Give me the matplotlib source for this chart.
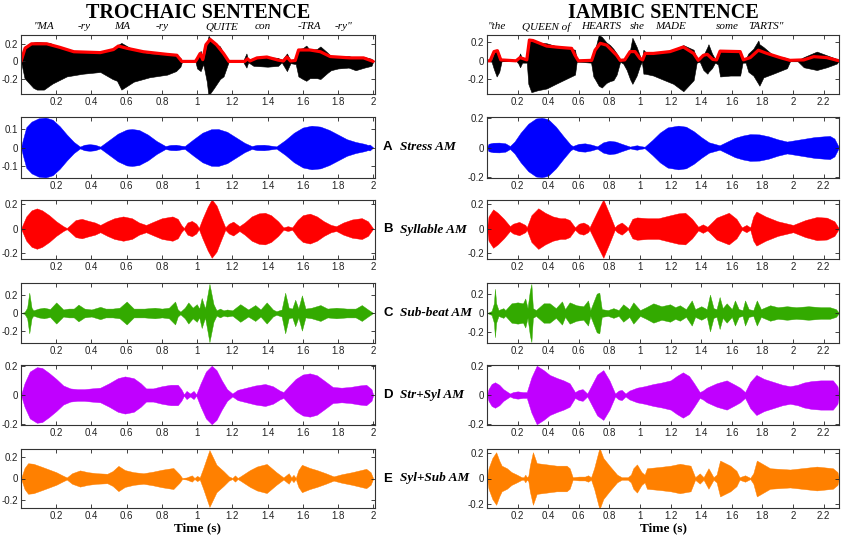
import numpy as np
import matplotlib.pyplot as plt

plt.rcParams['font.family'] = ['Liberation Sans', 'DejaVu Sans']

# ---------------- trochaic sentence ("MA-ry MA-ry QUITE con-TRA-ry") ----------------
tro_words = ['"MA', '-ry', 'MA', '-ry', 'QUITE', 'con', '-TRA', '-ry"']
tro_word_t = [0.13, 0.36, 0.575, 0.80, 1.14, 1.375, 1.64, 1.83]

tro_wave_t = [0, 0.02, 0.07, 0.09, 0.13, 0.165, 0.18, 0.26, 0.35, 0.45,
              0.52, 0.545, 0.57, 0.64, 0.73, 0.83, 0.88, 0.905, 0.915, 0.99,
              1.0, 1.02, 1.035, 1.055, 1.065, 1.075, 1.093, 1.13, 1.15, 1.18,
              1.26, 1.28, 1.29, 1.32, 1.40, 1.46, 1.48, 1.51, 1.53, 1.56,
              1.575, 1.6, 1.62, 1.64, 1.68, 1.7, 1.74, 1.76, 1.8, 1.86,
              1.9, 1.95, 1.99, 2.0]
tro_wave_hi = [0, 0.17, 0.215, 0.22, 0.215, 0.21, 0.19, 0.13, 0.11, 0.11,
               0.14, 0.18, 0.21, 0.13, 0.09, 0.08, 0.07, 0.04, 0, 0,
               0.05, 0.12, 0.02, 0.2, 0.29, 0.26, 0.22, 0.17, 0.09, 0,
               0, 0.09, 0.01, 0.04, 0.05, 0.04, 0.01, 0.09, 0.01, 0.02,
               0.14, 0.15, 0.18, 0.13, 0.14, 0.17, 0.1, 0.06, 0.05, 0.06,
               0.04, 0.05, 0.03, 0]
tro_wave_lo = [0, 0.19, 0.3, 0.32, 0.32, 0.27, 0.25, 0.17, 0.14, 0.12,
               0.2, 0.22, 0.32, 0.23, 0.18, 0.15, 0.11, 0.06, 0, 0,
               0.08, 0.11, 0.03, 0.23, 0.4, 0.36, 0.31, 0.2, 0.17, 0,
               0, 0.07, 0.01, 0.05, 0.06, 0.05, 0.01, 0.11, 0.02, 0.03,
               0.17, 0.2, 0.22, 0.19, 0.19, 0.2, 0.13, 0.1, 0.08, 0.07,
               0.1, 0.07, 0.05, 0]

tro_env_t = [0, 0.023, 0.06, 0.146, 0.22, 0.3, 0.45, 0.525, 0.553, 0.6,
             0.695, 0.83, 0.885, 0.913, 0.99, 1.0, 1.017, 1.032, 1.05, 1.074,
             1.11, 1.15, 1.18, 1.27, 1.286, 1.3, 1.34, 1.396, 1.46, 1.49,
             1.51, 1.53, 1.557, 1.576, 1.64, 1.7, 1.756, 1.87, 1.945, 2.0]
tro_env_a = [0, 0.15, 0.2, 0.2, 0.16, 0.11, 0.1, 0.135, 0.175, 0.15,
             0.11, 0.08, 0.07, 0, 0, 0.03, 0.09, 0.02, 0.19, 0.25,
             0.19, 0.09, 0, 0, 0.03, 0.005, 0.04, 0.05, 0.015, 0.005,
             0.05, 0.005, 0.01, 0.13, 0.13, 0.11, 0.055, 0.04, 0.04, 0]

tro_stress_t = [0, 0.01, 0.03, 0.06, 0.1, 0.14, 0.18, 0.22, 0.26, 0.3,
                0.335, 0.36, 0.39, 0.42, 0.45, 0.5, 0.55, 0.6, 0.63, 0.67,
                0.72, 0.77, 0.82, 0.85, 0.88, 0.91, 0.93, 0.98, 1.03, 1.08,
                1.12, 1.17, 1.22, 1.27, 1.31, 1.34, 1.38, 1.42, 1.45, 1.5,
                1.55, 1.6, 1.65, 1.7, 1.75, 1.8, 1.85, 1.9, 1.95, 1.97,
                1.98, 2.0]
tro_stress_a = [0, 0.04, 0.11, 0.14, 0.158, 0.162, 0.15, 0.115, 0.07, 0.03,
                0.005, 0.015, 0.018, 0.015, 0.005, 0.04, 0.075, 0.097, 0.1, 0.095,
                0.07, 0.035, 0.008, 0.014, 0.015, 0.01, 0.008, 0.045, 0.08, 0.099,
                0.1, 0.085, 0.055, 0.025, 0.008, 0.014, 0.015, 0.01, 0.006, 0.04,
                0.08, 0.108, 0.118, 0.113, 0.095, 0.07, 0.045, 0.03, 0.02, 0.014,
                0.016, 0]

tro_syl_t = [0, 0.03, 0.06, 0.09, 0.12, 0.16, 0.2, 0.24, 0.26, 0.28,
             0.31, 0.345, 0.38, 0.42, 0.45, 0.49, 0.53, 0.58, 0.63, 0.67,
             0.71, 0.75, 0.8, 0.86, 0.89, 0.91, 0.925, 0.945, 0.97, 0.995,
             1.01, 1.03, 1.06, 1.083, 1.11, 1.14, 1.16, 1.18, 1.205, 1.24,
             1.27, 1.31, 1.35, 1.385, 1.42, 1.46, 1.49, 1.515, 1.54, 1.57,
             1.6, 1.64, 1.68, 1.72, 1.76, 1.79, 1.83, 1.88, 1.935, 1.97,
             2.0]
tro_syl_a = [0, 0.1, 0.15, 0.166, 0.15, 0.11, 0.06, 0.02, 0.005, 0.03,
             0.07, 0.08, 0.065, 0.05, 0.03, 0.06, 0.085, 0.1, 0.085, 0.05,
             0.03, 0.055, 0.085, 0.1, 0.08, 0.03, 0.005, 0.05, 0.063, 0.04,
             0.005, 0.08, 0.18, 0.24, 0.19, 0.08, 0.01, 0.04, 0.057, 0.02,
             0.05, 0.1, 0.125, 0.13, 0.11, 0.06, 0.01, 0.02, 0.01, 0.07,
             0.11, 0.123, 0.1, 0.06, 0.03, 0.02, 0.05, 0.075, 0.086, 0.06,
             0]

tro_sub_t = [0, 0.02, 0.035, 0.047, 0.06, 0.07, 0.1, 0.13, 0.165, 0.2,
             0.24, 0.27, 0.3, 0.326, 0.36, 0.4, 0.45, 0.48, 0.52, 0.56,
             0.6, 0.64, 0.7, 0.76, 0.8, 0.84, 0.875, 0.89, 0.905, 0.93,
             0.95, 0.975, 0.998, 1.012, 1.026, 1.045, 1.07, 1.093, 1.11, 1.13,
             1.15, 1.17, 1.2, 1.245, 1.29, 1.33, 1.36, 1.395, 1.43, 1.45,
             1.48, 1.5, 1.52, 1.54, 1.557, 1.575, 1.595, 1.615, 1.65, 1.7,
             1.74, 1.79, 1.85, 1.9, 1.935, 1.97, 2.0]
tro_sub_a = [0, 0.01, 0.06, 0.23, 0.06, 0.03, 0.05, 0.06, 0.045, 0.12,
             0.04, 0.05, 0.05, 0.095, 0.05, 0.04, 0.07, 0.05, 0.05, 0.06,
             0.13, 0.05, 0.05, 0.06, 0.05, 0.06, 0.13, 0.04, 0.015, 0.06,
             0.12, 0.06, 0.1, 0.05, 0.17, 0.05, 0.33, 0.1, 0.03, 0.05,
             0.03, 0.04, 0.03, 0.1, 0.04, 0.09, 0.04, 0.12, 0.04, 0.02,
             0.04, 0.23, 0.06, 0.05, 0.15, 0.05, 0.2, 0.05, 0.06, 0.09,
             0.05, 0.06, 0.05, 0.05, 0.09, 0.04, 0]

tro_strsyl_t = [0, 0.02, 0.05, 0.09, 0.12, 0.16, 0.2, 0.24, 0.28, 0.32,
                0.36, 0.4, 0.45, 0.5, 0.55, 0.59, 0.64, 0.68, 0.71, 0.75,
                0.8, 0.85, 0.89, 0.91, 0.925, 0.94, 0.96, 0.98, 0.995, 1.02,
                1.05, 1.083, 1.11, 1.14, 1.17, 1.2, 1.23, 1.28, 1.33, 1.386,
                1.43, 1.47, 1.49, 1.52, 1.56, 1.6, 1.64, 1.68, 1.72, 1.77,
                1.82, 1.87, 1.92, 1.96, 1.99, 2.0]
tro_strsyl_a = [0, 0.08, 0.16, 0.19, 0.185, 0.15, 0.11, 0.065, 0.045, 0.04,
                0.04, 0.045, 0.05, 0.08, 0.115, 0.127, 0.115, 0.08, 0.045, 0.045,
                0.06, 0.07, 0.07, 0.04, 0.005, 0.028, 0.01, 0.028, 0.005, 0.08,
                0.16, 0.2, 0.17, 0.1, 0.04, 0.01, 0.035, 0.05, 0.065, 0.075,
                0.06, 0.03, 0.02, 0.06, 0.11, 0.14, 0.148, 0.135, 0.1, 0.055,
                0.05, 0.055, 0.065, 0.07, 0.04, 0]

tro_sylsub_t = [0, 0.02, 0.04, 0.07, 0.12, 0.16, 0.2, 0.235, 0.26, 0.29,
                0.335, 0.38, 0.43, 0.49, 0.52, 0.553, 0.59, 0.64, 0.695, 0.75,
                0.8, 0.865, 0.9, 0.915, 0.94, 0.97, 0.985, 1.0, 1.015, 1.035,
                1.07, 1.11, 1.15, 1.18, 1.2, 1.215, 1.23, 1.245, 1.3, 1.34,
                1.395, 1.45, 1.49, 1.505, 1.52, 1.535, 1.547, 1.56, 1.575, 1.595,
                1.64, 1.68, 1.73, 1.775, 1.82, 1.88, 1.93, 1.96, 1.985, 2.0]
tro_sylsub_a = [0, 0.1, 0.145, 0.14, 0.11, 0.085, 0.06, 0.03, 0.01, 0.05,
                0.077, 0.06, 0.05, 0.045, 0.07, 0.12, 0.08, 0.06, 0.05, 0.065,
                0.083, 0.1, 0.04, 0.005, 0.01, 0.03, 0.005, 0.025, 0.01, 0.1,
                0.27, 0.13, 0.07, 0.02, 0.005, 0.03, 0.005, 0.02, 0.08, 0.114,
                0.138, 0.06, 0.01, 0.03, 0.05, 0.01, 0.035, 0.005, 0.08, 0.13,
                0.1, 0.08, 0.05, 0.02, 0.04, 0.06, 0.08, 0.092, 0.06, 0]

# ---------------- iambic sentence ("the QUEEN of HEARTS she MADE some TARTS") ----------------
iam_words = ['"the', 'QUEEN of', 'HEARTS', 'she', 'MADE', 'some', 'TARTS"']
iam_word_t = [0.065, 0.39, 0.745, 0.98, 1.2, 1.57, 1.82]

iam_wave_t = [0, 0.03, 0.045, 0.063, 0.08, 0.096, 0.19, 0.205, 0.216, 0.23,
              0.26, 0.27, 0.29, 0.33, 0.39, 0.45, 0.5, 0.55, 0.575, 0.586,
              0.6, 0.68, 0.695, 0.706, 0.73, 0.75, 0.78, 0.804, 0.826, 0.847,
              0.87, 0.89, 0.913, 0.935, 0.95, 0.978, 1.0, 1.012, 1.022, 1.033,
              1.087, 1.13, 1.218, 1.283, 1.35, 1.37, 1.39, 1.414, 1.44, 1.447,
              1.47, 1.49, 1.51, 1.523, 1.59, 1.654, 1.67, 1.69, 1.708, 1.74,
              1.773, 1.78, 1.806, 1.87, 1.96, 1.98, 2.03, 2.07, 2.155, 2.22,
              2.285, 2.3]
iam_wave_hi = [0, 0.01, 0.08, 0.12, 0.07, 0, 0, 0.03, 0.08, 0.02,
               0.02, 0.24, 0.23, 0.2, 0.19, 0.16, 0.145, 0.13, 0.12, 0.01,
               0.01, 0.02, 0.08, 0.12, 0.28, 0.26, 0.2, 0.17, 0.13, 0.08,
               0.01, 0.02, 0.04, 0.12, 0.25, 0.15, 0.05, 0.01, 0.12, 0.1,
               0.08, 0.09, 0.12, 0.17, 0.12, 0.02, 0.01, 0.06, 0.15, 0.18,
               0.08, 0.02, 0.03, 0.12, 0.1, 0.1, 0.02, 0.02, 0.08, 0.13,
               0.22, 0.18, 0.15, 0.06, 0.03, 0.005, 0.005, 0.04, 0.1, 0.06,
               0.02, 0]
iam_wave_lo = [0, 0.01, 0.09, 0.17, 0.12, 0, 0, 0.03, 0.07, 0.02,
               0.02, 0.25, 0.34, 0.32, 0.3, 0.25, 0.21, 0.17, 0.15, 0.01,
               0.01, 0.02, 0.17, 0.2, 0.27, 0.29, 0.24, 0.22, 0.21, 0.15,
               0.01, 0.03, 0.1, 0.2, 0.25, 0.16, 0.05, 0.01, 0.14, 0.14,
               0.16, 0.19, 0.25, 0.33, 0.21, 0.02, 0.01, 0.1, 0.14, 0.12,
               0.08, 0.02, 0.04, 0.17, 0.16, 0.16, 0.02, 0.02, 0.12, 0.16,
               0.25, 0.27, 0.18, 0.14, 0.08, 0.005, 0.005, 0.07, 0.1, 0.07,
               0.03, 0]

iam_env_t = [0, 0.02, 0.046, 0.068, 0.09, 0.19, 0.216, 0.26, 0.277, 0.3,
             0.39, 0.477, 0.553, 0.575, 0.597, 0.684, 0.706, 0.74, 0.782, 0.847,
             0.87, 0.9, 0.935, 0.967, 1.0, 1.017, 1.033, 1.087, 1.196, 1.283,
             1.35, 1.38, 1.414, 1.44, 1.475, 1.5, 1.523, 1.654, 1.675, 1.72,
             1.773, 1.83, 1.915, 1.98, 2.07, 2.135, 2.22, 2.3]
iam_env_a = [0, 0, 0.1, 0.11, 0.01, 0, 0.035, 0.01, 0.225, 0.22,
             0.16, 0.145, 0.135, 0.06, 0, 0.005, 0.115, 0.19, 0.17, 0.06,
             0.005, 0.01, 0.1, 0.1, 0.025, 0.01, 0.08, 0.08, 0.1, 0.15,
             0.08, 0.005, 0.06, 0.07, 0.015, 0.01, 0.105, 0.1, 0.01, 0.035,
             0.115, 0.08, 0.035, 0.005, 0.01, 0.045, 0.035, 0]

iam_stress_t = [0, 0.01, 0.04, 0.08, 0.12, 0.15, 0.18, 0.22, 0.27, 0.32,
                0.357, 0.4, 0.45, 0.5, 0.545, 0.56, 0.6, 0.64, 0.68, 0.72,
                0.76, 0.8, 0.84, 0.88, 0.935, 0.96, 0.98, 1.0, 1.03, 1.08,
                1.13, 1.18, 1.25, 1.3, 1.35, 1.4, 1.45, 1.52, 1.57, 1.62,
                1.67, 1.72, 1.78, 1.84, 1.9, 1.96, 2.02, 2.08, 2.14, 2.2,
                2.24, 2.27, 2.3]
iam_stress_a = [0, 0.025, 0.032, 0.033, 0.028, 0.01, 0.04, 0.1, 0.16, 0.195,
                0.2, 0.19, 0.14, 0.075, 0.02, 0.01, 0.025, 0.028, 0.02, 0.008,
                0.035, 0.045, 0.04, 0.025, 0.006, 0.012, 0.015, 0.01, 0.005, 0.05,
                0.1, 0.135, 0.147, 0.14, 0.11, 0.07, 0.035, 0.015, 0.04, 0.065,
                0.08, 0.09, 0.088, 0.075, 0.055, 0.04, 0.05, 0.06, 0.07, 0.075,
                0.078, 0.06, 0]

iam_syl_t = [0, 0.01, 0.04, 0.07, 0.11, 0.15, 0.17, 0.21, 0.25, 0.26,
             0.29, 0.335, 0.38, 0.43, 0.48, 0.51, 0.54, 0.575, 0.6, 0.63,
             0.66, 0.67, 0.72, 0.76, 0.8, 0.835, 0.85, 0.88, 0.91, 0.92,
             0.95, 0.98, 1.05, 1.12, 1.2, 1.25, 1.295, 1.34, 1.38, 1.41,
             1.44, 1.5, 1.58, 1.63, 1.665, 1.695, 1.72, 1.74, 1.76, 1.82,
             1.9, 2.0, 2.08, 2.155, 2.22, 2.27, 2.3]
iam_syl_a = [0, 0.1, 0.158, 0.13, 0.08, 0.02, 0.04, 0.055, 0.03, 0.01,
             0.11, 0.167, 0.13, 0.1, 0.085, 0.085, 0.07, 0.01, 0.04, 0.05,
             0.03, 0.01, 0.14, 0.24, 0.12, 0.01, 0.03, 0.05, 0.02, 0.005,
             0.08, 0.092, 0.085, 0.085, 0.11, 0.125, 0.13, 0.08, 0.015, 0.035,
             0.015, 0.09, 0.13, 0.08, 0.01, 0.03, 0.01, 0.1, 0.14, 0.1,
             0.06, 0.03, 0.07, 0.095, 0.09, 0.06, 0]

iam_sub_t = [0, 0.03, 0.045, 0.052, 0.06, 0.075, 0.09, 0.107, 0.12, 0.16,
             0.2, 0.235, 0.25, 0.265, 0.28, 0.29, 0.3, 0.32, 0.37, 0.41,
             0.45, 0.49, 0.51, 0.54, 0.585, 0.63, 0.66, 0.675, 0.717, 0.734,
             0.75, 0.79, 0.826, 0.86, 0.89, 0.93, 0.956, 1.0, 1.04, 1.087,
             1.14, 1.196, 1.23, 1.26, 1.3, 1.338, 1.36, 1.4, 1.436, 1.457,
             1.48, 1.5, 1.52, 1.54, 1.566, 1.6, 1.62, 1.645, 1.67, 1.686,
             1.71, 1.74, 1.763, 1.79, 1.85, 1.9, 1.96, 2.02, 2.1, 2.18,
             2.24, 2.28, 2.3]
iam_sub_a = [0, 0.02, 0.1, 0.25, 0.1, 0.03, 0.04, 0.05, 0.03, 0.1,
             0.11, 0.1, 0.15, 0.05, 0.23, 0.3, 0.05, 0.03, 0.1, 0.1,
             0.05, 0.12, 0.04, 0.11, 0.08, 0.07, 0.13, 0.03, 0.2, 0.21,
             0.04, 0.03, 0.05, 0.03, 0.09, 0.04, 0.11, 0.03, 0.06, 0.1,
             0.07, 0.09, 0.06, 0.08, 0.04, 0.13, 0.04, 0.07, 0.04, 0.19,
             0.05, 0.04, 0.165, 0.05, 0.1, 0.04, 0.13, 0.04, 0.03, 0.13,
             0.04, 0.03, 0.13, 0.04, 0.08, 0.06, 0.07, 0.06, 0.07, 0.06,
             0.06, 0.04, 0]

iam_strsyl_t = [0, 0.01, 0.03, 0.052, 0.08, 0.107, 0.15, 0.17, 0.2, 0.235,
                0.26, 0.29, 0.325, 0.37, 0.41, 0.46, 0.5, 0.54, 0.575, 0.6,
                0.625, 0.655, 0.68, 0.72, 0.76, 0.8, 0.837, 0.86, 0.88, 0.905,
                0.93, 0.98, 1.03, 1.087, 1.14, 1.2, 1.24, 1.28, 1.32, 1.35,
                1.39, 1.41, 1.436, 1.5, 1.566, 1.62, 1.654, 1.686, 1.72, 1.76,
                1.81, 1.87, 1.93, 1.98, 2.03, 2.07, 2.12, 2.18, 2.26, 2.29,
                2.3]
iam_strsyl_a = [0, 0.04, 0.075, 0.087, 0.07, 0.04, 0.01, 0.02, 0.025, 0.02,
                0.02, 0.12, 0.2, 0.17, 0.137, 0.115, 0.1, 0.08, 0.02, 0.035,
                0.04, 0.01, 0.06, 0.14, 0.17, 0.1, 0.01, 0.03, 0.035, 0.01,
                0.03, 0.05, 0.06, 0.075, 0.085, 0.1, 0.13, 0.155, 0.13, 0.085,
                0.02, 0.03, 0.05, 0.08, 0.1, 0.07, 0.05, 0.02, 0.09, 0.137,
                0.11, 0.09, 0.07, 0.06, 0.07, 0.085, 0.095, 0.1, 0.1, 0.06,
                0]

iam_sylsub_t = [0, 0.01, 0.035, 0.06, 0.08, 0.096, 0.13, 0.16, 0.195, 0.227,
                0.24, 0.25, 0.26, 0.27, 0.28, 0.3, 0.325, 0.39, 0.455, 0.52,
                0.54, 0.56, 0.6, 0.64, 0.66, 0.68, 0.7, 0.735, 0.76, 0.8,
                0.85, 0.88, 0.92, 0.94, 0.956, 0.98, 1.01, 1.03, 1.045, 1.13,
                1.2, 1.26, 1.33, 1.36, 1.39, 1.415, 1.447, 1.48, 1.5, 1.523,
                1.59, 1.63, 1.65, 1.686, 1.72, 1.74, 1.763, 1.85, 1.98, 2.155,
                2.26, 2.29, 2.3]
iam_sylsub_a = [0, 0.08, 0.16, 0.205, 0.14, 0.1, 0.08, 0.05, 0.03, 0.01,
                0.01, 0.03, 0.01, 0.02, 0.1, 0.205, 0.12, 0.11, 0.1, 0.1,
                0.08, 0.01, 0.015, 0.015, 0.025, 0.01, 0.08, 0.24, 0.16, 0.1,
                0.03, 0.01, 0.01, 0.03, 0.08, 0.11, 0.05, 0.03, 0.08, 0.09,
                0.1, 0.115, 0.1, 0.01, 0.04, 0.01, 0.08, 0.01, 0.03, 0.14,
                0.1, 0.06, 0.01, 0.025, 0.005, 0.04, 0.14, 0.08, 0.07, 0.093,
                0.08, 0.05, 0]

row_labels = ['A', 'B', 'C', 'D', 'E']
row_names = ['Stress AM', 'Syllable AM', 'Sub-beat AM', 'Str+Syl AM', 'Syl+Sub AM']
row_colors = ['#0000ff', '#ff0000', '#33aa00', '#c000ff', '#ff8000']

tro_rows = [(tro_stress_t, tro_stress_a), (tro_syl_t, tro_syl_a), (tro_sub_t, tro_sub_a),
            (tro_strsyl_t, tro_strsyl_a), (tro_sylsub_t, tro_sylsub_a)]
iam_rows = [(iam_stress_t, iam_stress_a), (iam_syl_t, iam_syl_a), (iam_sub_t, iam_sub_a),
            (iam_strsyl_t, iam_strsyl_a), (iam_sylsub_t, iam_sylsub_a)]

# y limits per row (top panel first), left and right columns
tro_ylims = [(-0.37, 0.30), (-0.165, 0.165), (-0.25, 0.235), (-0.34, 0.34), (-0.205, 0.205), (-0.28, 0.28)]
iam_ylims = [(-0.36, 0.28), (-0.205, 0.205), (-0.25, 0.235), (-0.31, 0.31), (-0.205, 0.205), (-0.23, 0.23)]
tro_yticks = [[-0.2, 0, 0.2], [-0.1, 0, 0.1]] + [[-0.2, 0, 0.2]] * 4
iam_yticks = [[-0.2, 0, 0.2]] * 6

tro_xticks = [0.2, 0.4, 0.6, 0.8, 1.0, 1.2, 1.4, 1.6, 1.8, 2.0]
iam_xticks = [0.2, 0.4, 0.6, 0.8, 1.0, 1.2, 1.4, 1.6, 1.8, 2.0, 2.2]

W, H = 843, 540
fig = plt.figure(figsize=(W / 100, H / 100), dpi=100)

# panel rows in pixels (top, bottom)
row_px = [(35, 94), (117, 178), (200, 259), (283, 343), (365, 425), (449, 508)]
col_px = [(21, 375), (487, 839)]


def add_ax(col, row):
    x0, x1 = col_px[col]
    y0, y1 = row_px[row]
    return fig.add_axes([x0 / W, 1 - y1 / H, (x1 - x0) / W, (y1 - y0) / H])


def style(ax, xmax, xticks, ylim, yticks):
    ax.set_xlim(0, xmax)
    ax.set_ylim(*ylim)
    ax.set_xticks(xticks)
    ax.set_xticklabels(['%g' % v for v in xticks])
    ax.set_yticks(yticks)
    ax.set_yticklabels(['%g' % v for v in yticks])
    ax.tick_params(direction='in', top=True, right=True, length=3, width=0.6,
                   labelsize=7, pad=2, colors='#222222')
    for s in ax.spines.values():
        s.set_linewidth(0.8)
        s.set_color('#333333')


columns = [
    dict(xmax=2.01, xticks=tro_xticks, ylims=tro_ylims, yticks=tro_yticks,
         wave=(tro_wave_t, tro_wave_hi, tro_wave_lo), env=(tro_env_t, tro_env_a),
         rows=tro_rows, words=tro_words, word_t=tro_word_t, title='TROCHAIC SENTENCE'),
    dict(xmax=2.3, xticks=iam_xticks, ylims=iam_ylims, yticks=iam_yticks,
         wave=(iam_wave_t, iam_wave_hi, iam_wave_lo), env=(iam_env_t, iam_env_a),
         rows=iam_rows, words=iam_words, word_t=iam_word_t, title='IAMBIC SENTENCE'),
]

for c, col in enumerate(columns):
    # speech waveform with its envelope
    ax = add_ax(c, 0)
    t, hi, lo = (np.array(v) for v in col['wave'])
    ax.fill_between(t, -lo, hi, color='black', lw=0.4)
    ax.plot(col['env'][0], col['env'][1], color='red', lw=2.3, solid_capstyle='round')
    style(ax, col['xmax'], col['xticks'], col['ylims'][0], col['yticks'][0])
    for w, wt in zip(col['words'], col['word_t']):
        ax.text(wt, 1.14, w, transform=ax.get_xaxis_transform(), ha='center', va='center',
                fontsize=8, style='italic', family='Liberation Serif')
    ax.set_title(col['title'], fontsize=14.5, fontweight='bold', family='Liberation Serif',
                 pad=12)

    # modulated noise panels
    for r, (tt, aa) in enumerate(col['rows']):
        ax = add_ax(c, r + 1)
        tt = np.array(tt)
        aa = np.array(aa)
        ax.fill_between(tt, -aa, aa, color=row_colors[r], lw=0.3)
        style(ax, col['xmax'], col['xticks'], col['ylims'][r + 1], col['yticks'][r + 1])
        if r == 4:
            ax.set_xlabel('Time (s)', fontsize=9.5, fontweight='bold',
                          family='Liberation Serif', labelpad=1)

# row labels between the columns
for r in range(5):
    y0, y1 = row_px[r + 1]
    yc = 1 - (y0 + y1) / 2 / H
    fig.text(383 / W, yc, row_labels[r], fontsize=9.5, fontweight='bold', va='center')
    fig.text(400 / W, yc, row_names[r], fontsize=9.5, fontweight='bold', style='italic',
             family='Liberation Serif', va='center')

fig.savefig('out.png', dpi=100)
